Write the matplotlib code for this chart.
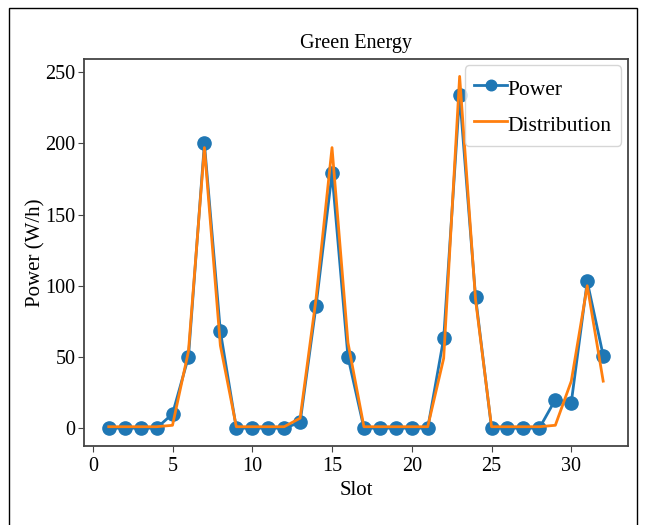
import numpy as np
import matplotlib.pyplot as plt
from matplotlib.patches import Rectangle

# data
slots = list(range(1, 33))
power = [0, 0, 0, 0, 10, 50, 200, 68, 0, 0, 0, 0, 4, 86, 179, 50,
         0, 0, 0, 0, 0, 63, 234, 92, 0, 0, 0, 0, 20, 18, 103, 51]
distribution = [1, 1, 1, 1, 2, 54, 197, 58, 1, 1, 1, 1, 7, 91, 197, 60,
                1, 1, 1, 1, 1, 49, 247, 90, 1, 1, 1, 1, 2, 33, 100, 33]

plt.rcParams['font.family'] = ['Liberation Serif', 'DejaVu Serif']
plt.rcParams['font.size'] = 15

fig = plt.figure(figsize=(6.46, 5.25), dpi=100)
ax = fig.add_axes([0.130, 0.151, 0.842, 0.737])

ax.plot(slots, power, color='#1f77b4', marker='o', markersize=9.5,
        linewidth=2, label='Power')
ax.plot(slots, distribution, color='#ff7f0e', linewidth=2,
        label='Distribution')

ax.set_title('Green Energy', fontsize=14.5, pad=8)
ax.set_xlabel('Slot', labelpad=4)
ax.set_ylabel('Power (W/h)', labelpad=0)
ax.set_xticks([0, 5, 10, 15, 20, 25, 30])
ax.set_yticks([0, 50, 100, 150, 200, 250])

for sp in ax.spines.values():
    sp.set_color('#444444')
    sp.set_linewidth(1.3)
ax.tick_params(colors='#444444', labelcolor='black', length=4,
               labelsize=14.5, pad=2)
ax.tick_params(axis='x', pad=4)

leg = ax.legend(loc='upper right', fontsize=15.5, handlelength=1.5,
                handleheight=1.4, handletextpad=0.05, borderpad=0.45,
                labelspacing=0.52, borderaxespad=0.3, markerscale=0.8)
leg.get_frame().set_edgecolor('#cccccc')

# outer frame around the figure
fig.patches.append(Rectangle((9 / 646, -0.02), 628 / 646, 1 - 8 / 525 + 0.02,
                             transform=fig.transFigure, fill=False,
                             edgecolor='black', linewidth=1))

fig.savefig('out.png', dpi=100)
